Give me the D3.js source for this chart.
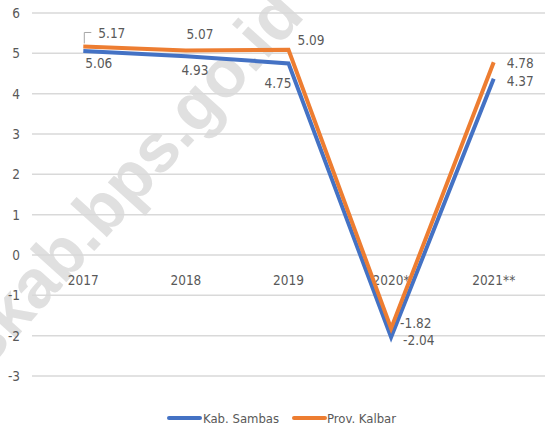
<!DOCTYPE html>
<html><head><meta charset="utf-8">
<script src="https://cdn.jsdelivr.net/npm/d3@7"></script>
<style>
body{margin:0;background:#fff;}
text{font-family:"DejaVu Sans Condensed","Liberation Sans Narrow",sans-serif;fill:#595959;}
</style></head><body>
<svg id="c" width="545" height="425"></svg>
<script>
const categories = ["2017","2018","2019","2020*","2021**"];
const sambas = [5.06, 4.93, 4.75, -2.04, 4.37];
const kalbar = [5.17, 5.07, 5.09, -1.82, 4.78];
const yTicks = [-3,-2,-1,0,1,2,3,4,5,6];
const seriesNames = ["Kab. Sambas","Prov. Kalbar"];
const colors = ["#4472C4","#ED7D31"];
// label offsets [dx, dy, anchor]
const sambasLbl = [[2,17,"start"],[9,19,"middle"],[3,25,"end"],[12,8,"start"],[13,7,"start"]];
const kalbarLbl = [[15,-8,"start"],[14,-12,"middle"],[9,-5,"start"],[9,0,"start"],[13,6,"start"]];

const svg = d3.select("#c");
const x = d3.scaleBand().domain(categories).range([32,545]);
const y = d3.scaleLinear().domain([-3,6]).range([376,13]);
const cx = d => x(d) + x.bandwidth()/2;

// watermark
svg.append("text")
  .attr("transform","translate(306,16) rotate(-48)")
  .attr("text-anchor","end")
  .style("font-family","'Liberation Sans',Arial,sans-serif")
  .style("font-weight","bold").style("font-size","68px")
  .style("fill","#e0e0e0")
  .text("sambaskab.bps.go.id");

// grid
svg.append("g").selectAll("line").data(yTicks).join("line")
  .attr("x1",32).attr("x2",545).attr("y1",d=>y(d)).attr("y2",d=>y(d))
  .attr("stroke","#d9d9d9").attr("stroke-width",1.5);

// y labels
svg.append("g").selectAll("text").data(yTicks).join("text")
  .attr("x",20).attr("y",d=>y(d)+5).attr("text-anchor","end")
  .style("font-size","13.5px").text(d=>d);

// x labels
svg.append("g").selectAll("text").data(categories).join("text")
  .attr("x",d=>cx(d)).attr("y",285).attr("text-anchor","middle")
  .style("font-size","13.5px").text(d=>d);

const line = d3.line().x((d,i)=>cx(categories[i])).y(d=>y(d));
[sambas,kalbar].forEach((s,k)=>{
  svg.append("path").datum(s).attr("d",line)
    .attr("fill","none").attr("stroke",colors[k]).attr("stroke-width",4)
    .attr("stroke-linejoin","miter");
});

// data labels
function labels(s,offs){
  svg.append("g").selectAll("text").data(s).join("text")
    .attr("x",(d,i)=>cx(categories[i])+offs[i][0])
    .attr("y",(d,i)=>y(d)+offs[i][1])
    .attr("text-anchor",(d,i)=>offs[i][2])
    .style("font-size","13.5px").text(d=>d.toFixed(2));
}
labels(sambas,sambasLbl);
labels(kalbar,kalbarLbl);

// leader line for 5.17
const lx = cx(categories[0])+1, ly = y(kalbar[0]);
svg.append("path").attr("d",`M${lx},${ly-3}V${ly-14}H${lx+7}`)
  .attr("fill","none").attr("stroke","#a6a6a6").attr("stroke-width",1);

// legend
const leg = [[169,203],[294,327]];
seriesNames.forEach((n,k)=>{
  svg.append("line").attr("x1",leg[k][0]).attr("x2",leg[k][0]+31).attr("y1",418).attr("y2",418)
    .attr("stroke",colors[k]).attr("stroke-width",4).attr("stroke-linecap","round");
  svg.append("text").attr("x",leg[k][1]).attr("y",423).style("font-size","13px").text(n);
});
</script></body></html>
